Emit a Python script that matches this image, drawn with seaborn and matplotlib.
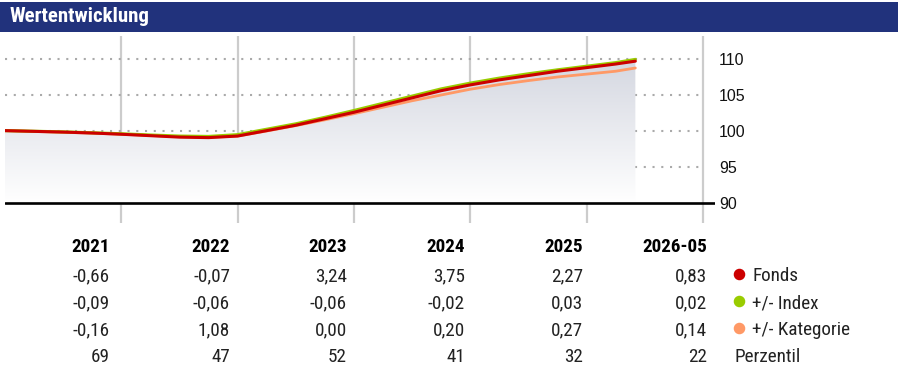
import numpy as np
import pandas as pd
import matplotlib
matplotlib.use('Agg')
import matplotlib.pyplot as plt
from matplotlib.colors import LinearSegmentedColormap
from matplotlib.lines import Line2D
from matplotlib.patches import Rectangle
import seaborn as sns

# --- data (years since start of 2021, indexed values) ---
t = [0.0, 0.25, 0.5, 0.75, 1.0, 1.25, 1.5, 1.75, 2.0, 2.25, 2.5, 2.75,
     3.0, 3.25, 3.5, 3.75, 4.0, 4.25, 4.5, 4.75, 5.0, 5.25, 5.42]
fonds = [100.05, 99.95, 99.85, 99.72, 99.55, 99.35, 99.15, 99.08, 99.3,
         100.05, 100.8, 101.7, 102.6, 103.6, 104.6, 105.6, 106.4, 107.1,
         107.7, 108.3, 108.8, 109.3, 109.7]
index = [100.05, 99.97, 99.88, 99.76, 99.62, 99.45, 99.3, 99.25, 99.5,
         100.25, 101.0, 101.9, 102.85, 103.85, 104.85, 105.85, 106.65,
         107.35, 107.95, 108.5, 109.0, 109.5, 109.95]
kategorie = [100.05, 99.93, 99.82, 99.7, 99.55, 99.38, 99.2, 99.12, 99.3,
             100.0, 100.75, 101.55, 102.4, 103.3, 104.2, 105.0, 105.8,
             106.45, 107.0, 107.5, 107.9, 108.3, 108.75]

y_ticks = [90, 95, 100, 105, 110]
year_lines = [1, 2, 3, 4, 5, 6]

col_labels = ['2021', '2022', '2023', '2024', '2025', '2026-05']
row_fonds = ['-0,66', '-0,07', '3,24', '3,75', '2,27', '0,83']
row_index = ['-0,09', '-0,06', '-0,06', '-0,02', '0,03', '0,02']
row_kat = ['-0,16', '1,08', '0,00', '0,20', '0,27', '0,14']
row_perz = ['69', '47', '52', '41', '32', '22']
legend_labels = ['Fonds', '+/- Index', '+/- Kategorie']

RED = '#cc0000'
GREEN = '#99cc00'
ORANGE = '#ff9966'
NAVY = '#21327c'

W, H = 898, 372
narrow = ['Roboto Condensed', 'Archivo Narrow', 'DejaVu Sans']

sns.set_style('white')
plt.rcParams['font.family'] = ['Arimo', 'Liberation Sans', 'DejaVu Sans']

fig = plt.figure(figsize=(W / 100, H / 100), dpi=100)
fig.patch.set_facecolor('white')

# header bar
fig.add_artist(Rectangle((0, 1 - 32 / H), 1, 30 / H, transform=fig.transFigure,
                         facecolor=NAVY, edgecolor='none'))
fig.text(10 / W, 1 - 17 / H, 'Wertentwicklung', color='white',
         fontsize=15, fontweight='bold', family=narrow, va='center', ha='left')

# chart axes
ax_l, ax_r, ax_t, ax_b = 5, 715, 36, 223
ax = fig.add_axes([ax_l / W, 1 - ax_b / H, (ax_r - ax_l) / W, (ax_b - ax_t) / H])
px_per_year = 116.3
xlim = (0, (ax_r - ax_l) / px_per_year)
ylim = (90 - 20 / 7.2, 110 + 23 / 7.2)
for s in ax.spines.values():
    s.set_visible(False)

# gradient fill under fonds
poly = ax.fill_between(t, fonds, 90, color='none', lw=0)
cmap = LinearSegmentedColormap.from_list('g', ['#ffffff', '#d2d5df'])
grad = np.linspace(0, 1, 256).reshape(-1, 1)
img = ax.imshow(grad, cmap=cmap, origin='lower', aspect='auto',
                extent=[0, t[-1], 90, 111], zorder=1)
img.set_clip_path(poly.get_paths()[0], transform=ax.transData)

# grid
for x in year_lines:
    ax.axvline(x, color='#cccccc', lw=1.6, zorder=0.5)
x_dot_end = (705 - ax_l) / px_per_year
for y in y_ticks[1:]:
    ax.plot([0, x_dot_end], [y, y], color='#aaaaaa', lw=1.5,
            linestyle=(0, (1, 3.2)), zorder=0.6)
ax.plot([0, xlim[1]], [90, 90], color='black', lw=1.9, zorder=3)

df = pd.DataFrame({'t': t, 'Fonds': fonds, 'Index': index, 'Kategorie': kategorie})
sns.lineplot(data=df, x='t', y='Kategorie', color=ORANGE, lw=2.0, ax=ax, zorder=4)
sns.lineplot(data=df, x='t', y='Index', color=GREEN, lw=2.2, ax=ax, zorder=5)
sns.lineplot(data=df, x='t', y='Fonds', color=RED, lw=2.2, ax=ax, zorder=6)

ax.set_xlim(*xlim)
ax.set_ylim(*ylim)
ax.set_xlabel('')
ax.set_ylabel('')
ax.set_xticks([])
ax.yaxis.tick_right()
ax.set_yticks(y_ticks)
ax.set_yticklabels([str(v) for v in y_ticks])
ax.tick_params(axis='y', length=0, pad=3, labelsize=11.5, colors='#111111')

# table below
col_right = [110, 230, 347, 465, 583, 707]
row_y = [247.5, 276, 303, 330, 357.5]
rows = [row_fonds, row_index, row_kat, row_perz]
fs = 13.8
for j, lab in enumerate(col_labels):
    fig.text(col_right[j] / W, 1 - row_y[0] / H, lab, ha='right', va='center',
             fontsize=fs, fontweight='bold', family=narrow, color='black')
    for i, row in enumerate(rows):
        fig.text(col_right[j] / W, 1 - row_y[i + 1] / H, row[j], ha='right',
                 va='center', fontsize=fs, family=narrow, color='#222222')

for i, (lab, c) in enumerate(zip(legend_labels, [RED, GREEN, ORANGE])):
    yy = 1 - row_y[i + 1] / H
    fig.add_artist(Line2D([739 / W], [yy + 2 / H], marker='o', markersize=7.3,
                          color=c, transform=fig.transFigure, lw=0))
    fig.text(752 / W, yy, lab, ha='left', va='center', fontsize=fs,
             family=narrow, color='#222222')
fig.text(735 / W, 1 - row_y[4] / H, 'Perzentil', ha='left', va='center',
         fontsize=fs, family=narrow, color='#222222')

fig.savefig('out.png', dpi=100, facecolor='white')
